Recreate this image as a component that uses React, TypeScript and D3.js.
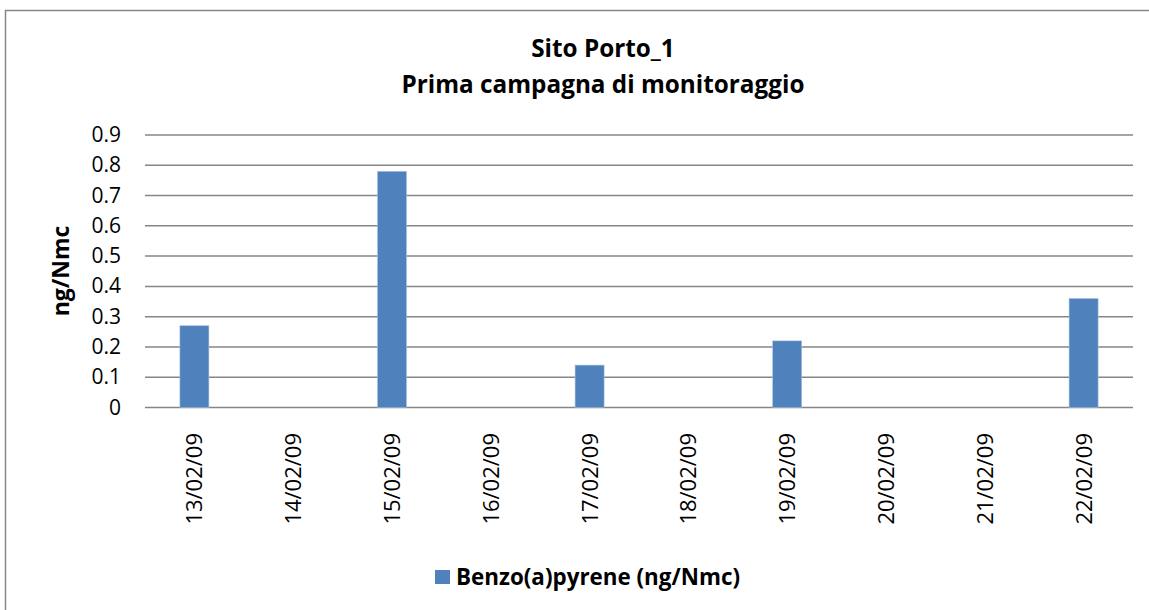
import React from "react";
import * as d3 from "d3";

const categories = ["13/02/09","14/02/09","15/02/09","16/02/09","17/02/09","18/02/09","19/02/09","20/02/09","21/02/09","22/02/09"];
const values: (number | null)[] = [0.27, null, 0.78, null, 0.14, null, 0.22, null, null, 0.36];
const yTicks = [0, 0.1, 0.2, 0.3, 0.4, 0.5, 0.6, 0.7, 0.8, 0.9];
const titleLines = ["Sito Porto_1", "Prima campagna di monitoraggio"];
const yTitle = "ng/Nmc";
const seriesName = "Benzo(a)pyrene (ng/Nmc)";

const W = 1149, H = 610;
const left = 145, right = 1133, top = 135, bottom = 407.5;
const font = "'Open Sans', sans-serif";
const barColor = "#4F81BD";

export default function App() {
  const y = d3.scaleLinear().domain([0, 0.9]).range([bottom, top]);
  const band = d3.scaleBand<string>().domain(categories).range([left, right]);
  return (
    <svg width={W} height={H} style={{ position: "absolute", left: 0, top: 0 }}>
      <rect x={0} y={0} width={W} height={H} fill="#fff" />
      <rect x={5.5} y={10.5} width={1150} height={620} fill="#fff" stroke="#868686" strokeWidth={1.5} />
      {titleLines.map((t, i) => (
        <text key={t} x={603} y={57 + i * 36} textAnchor="middle" fontFamily={font} fontWeight="bold" fontSize={24.3} fill="#000">{t}</text>
      ))}
      {yTicks.map((t) => (
        <g key={t}>
          <line x1={left} x2={right} y1={y(t)} y2={y(t)} stroke="#868686" strokeWidth={1.5} />
          <text x={121} y={y(t) + 7} textAnchor="end" fontFamily={font} fontSize={21} fill="#000">{d3.format("")(t)}</text>
        </g>
      ))}
      {categories.map((c, i) => values[i] == null ? null : (
        <rect key={c} x={band(c)! + band.bandwidth() / 2 - 14.5} width={29} y={y(values[i] as number)} height={bottom - y(values[i] as number)} fill={barColor} stroke="#A7C0DE" strokeWidth={0.6} />
      ))}
      {categories.map((c) => {
        const cx = band(c)! + band.bandwidth() / 2;
        return (
          <text key={c} transform={`translate(${cx + 8},433) rotate(-90)`} textAnchor="end" fontFamily={font} fontSize={22} fill="#000">{c}</text>
        );
      })}
      <text transform={`translate(69,271) rotate(-90)`} textAnchor="middle" fontFamily={font} fontWeight="bold" fontSize={23} fill="#000">{yTitle}</text>
      <rect x={435} y={570} width={15} height={14} fill={barColor} />
      <text x={456} y={585} fontFamily={font} fontWeight="bold" fontSize={22.4} fill="#000">{seriesName}</text>
    </svg>
  );
}
